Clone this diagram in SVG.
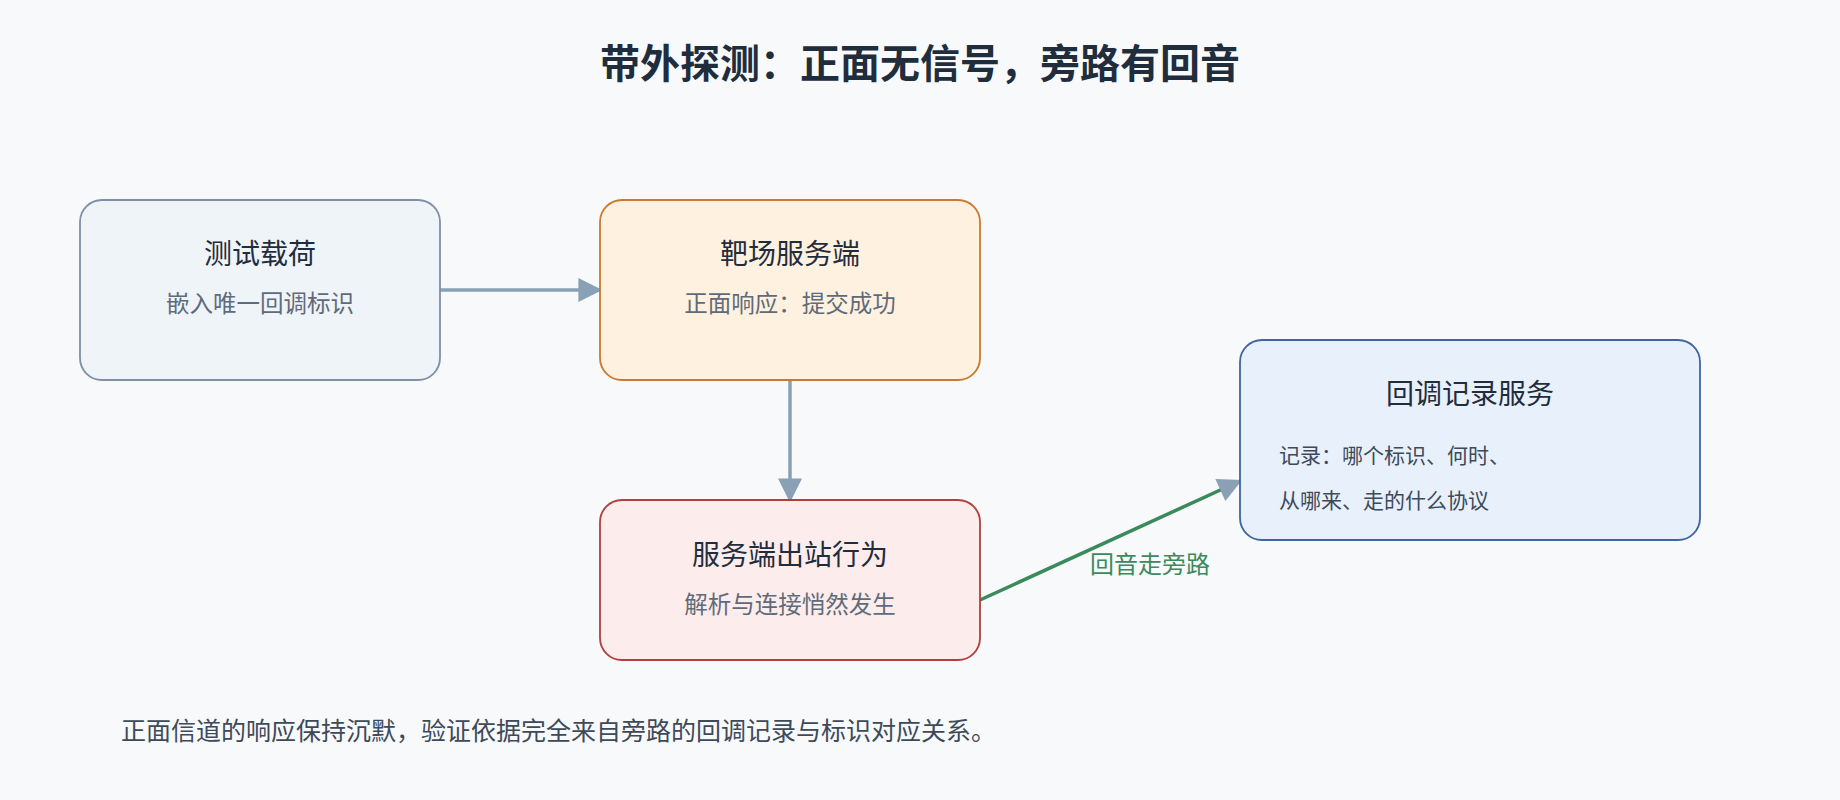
<svg xmlns="http://www.w3.org/2000/svg" width="1840" height="800" viewBox="0 0 1840 800">
<style>
text{font-family:"Noto Sans CJK SC","Noto Sans",sans-serif}
.t{font-size:28px;fill:#1f2d3d;text-anchor:middle}
.s{font-size:23.5px;fill:#5f6b7a;text-anchor:middle}
.l{font-size:21px;fill:#3d4a5a}
.c{stroke:#8aa0b4;stroke-width:3.5;fill:none}
</style>
<defs>
<marker id="g" viewBox="0 0 10 10" refX="9" refY="5" markerWidth="26" markerHeight="24" orient="auto" markerUnits="userSpaceOnUse"><path d="M0,0L10,5L0,10z" fill="#8aa0b4"/></marker>
<marker id="b" viewBox="0 0 10 10" refX="9" refY="5" markerWidth="26" markerHeight="24" orient="auto" markerUnits="userSpaceOnUse"><path d="M0,0L10,5L0,10z" fill="#8aa0b4"/></marker>
</defs>
<rect width="1840" height="800" fill="#f7f9fb"/>
<text x="920" y="78" style="font-size:40px;font-weight:bold;fill:#1f2d3d;text-anchor:middle">带外探测：正面无信号，旁路有回音</text>
<g id="connectors">
<line class="c" x1="440" y1="290" x2="600" y2="290" marker-end="url(#b)"/>
<line class="c" x1="790" y1="380" x2="790" y2="500" marker-end="url(#b)"/>
<line x1="980" y1="600" x2="1240" y2="481" stroke="#3a8a5c" stroke-width="3.5" marker-end="url(#g)"/>
<text x="1150" y="573" style="font-size:24px;fill:#3a8a5c;text-anchor:middle">回音走旁路</text>
</g>
<g id="n1"><rect x="80" y="200" width="360" height="180" rx="22" fill="#eff4f9" stroke="#7f8fa8" stroke-width="1.8"/>
<text class="t" x="260" y="264">测试载荷</text><text class="s" x="260" y="312">嵌入唯一回调标识</text></g>
<g id="n2"><rect x="600" y="200" width="380" height="180" rx="22" fill="#fff1df" stroke="#c97a2e" stroke-width="1.8"/>
<text class="t" x="790" y="264">靶场服务端</text><text class="s" x="790" y="312">正面响应：提交成功</text></g>
<g id="n3"><rect x="600" y="500" width="380" height="160" rx="22" fill="#fcecec" stroke="#b04040" stroke-width="1.8"/>
<text class="t" x="790" y="565">服务端出站行为</text><text class="s" x="790" y="613">解析与连接悄然发生</text></g>
<g id="n4"><rect x="1240" y="340" width="460" height="200" rx="22" fill="#e8f0fc" stroke="#3e65a0" stroke-width="1.8"/>
<text class="t" x="1470" y="404">回调记录服务</text>
<text class="l" x="1279" y="463">记录：哪个标识、何时、</text>
<text class="l" x="1279" y="508">从哪来、走的什么协议</text></g>
<text x="121" y="740" style="font-size:25px;fill:#3d4a5a">正面信道的响应保持沉默，验证依据完全来自旁路的回调记录与标识对应关系。</text>
</svg>
